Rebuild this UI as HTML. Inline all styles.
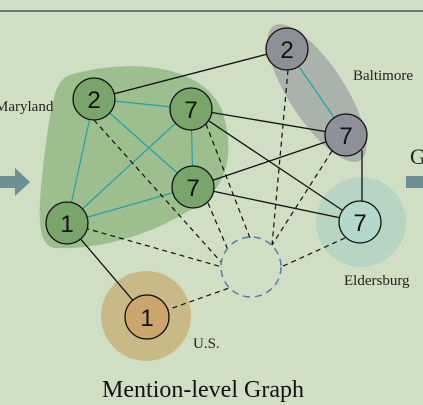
<!DOCTYPE html>
<html><head><style>body{margin:0;background:#d0dfc3;}svg{display:block}</style></head><body>
<svg width="423" height="405" viewBox="0 0 423 405" xmlns="http://www.w3.org/2000/svg" font-family="Liberation Serif, serif">
<rect width="423" height="405" fill="#d0dfc3"/>
<line x1="0" y1="11" x2="423" y2="11" stroke="#3e5866" stroke-width="1.5"/>
<polygon points="0,176 15,176 15,168 30,182 15,196 15,188 0,188" fill="#6e8f94"/>
<rect x="406" y="176" width="17" height="12" fill="#6e8f94"/>
<text x="410" y="164" font-size="22" fill="#222">G</text>
<path d="M70,75 C120,60 200,60 222,110 C235,150 230,190 190,210 C150,235 100,250 55,248 C35,245 38,210 45,150 C52,100 55,80 70,75 Z" fill="#9dbf8e"/>
<ellipse cx="317" cy="93" rx="28" ry="80" transform="rotate(-33 317 93)" fill="#aab3ab"/>
<circle cx="361" cy="222" r="45" fill="#b8d4c2"/>
<circle cx="146" cy="316" r="45" fill="#c9b986"/>
<g stroke="#1aa3a8" stroke-width="1.2">
<line x1="94" y1="99" x2="191" y2="109"/><line x1="94" y1="99" x2="193" y2="187"/>
<line x1="94" y1="99" x2="67" y2="223"/><line x1="191" y1="109" x2="193" y2="187"/>
<line x1="191" y1="109" x2="67" y2="223"/><line x1="193" y1="187" x2="67" y2="223"/>
<line x1="287" y1="49" x2="346" y2="135"/>
</g>
<g stroke="#111" stroke-width="1.3">
<line x1="94" y1="99" x2="287" y2="49"/><line x1="191" y1="109" x2="346" y2="135"/>
<line x1="191" y1="109" x2="360" y2="222"/><line x1="193" y1="187" x2="346" y2="135"/>
<line x1="193" y1="187" x2="360" y2="222"/><line x1="362" y1="150" x2="362" y2="205"/>
<line x1="67" y1="223" x2="147" y2="317"/>
</g>
<g stroke="#111" stroke-width="1.2" stroke-dasharray="5,4">
<line x1="94" y1="120" x2="221" y2="262"/><line x1="206" y1="124" x2="250" y2="238"/>
<line x1="208" y1="203" x2="228" y2="250"/><line x1="67" y1="223" x2="222" y2="267"/>
<line x1="288" y1="70" x2="272" y2="245"/><line x1="332" y1="151" x2="272" y2="245"/>
<line x1="345" y1="238" x2="281" y2="267"/><line x1="147" y1="317" x2="232" y2="287"/>
</g>
<circle cx="251" cy="267" r="30" fill="none" stroke="#4f7fa8" stroke-width="1.5" stroke-dasharray="7,5"/>
<g stroke="#111" stroke-width="1.3" font-family="Liberation Sans, sans-serif" font-size="24" text-anchor="middle">
<circle cx="94" cy="99" r="21" fill="#7aa56a"/><circle cx="191" cy="109" r="21" fill="#7aa56a"/>
<circle cx="193" cy="187" r="21" fill="#7aa56a"/><circle cx="67" cy="223" r="21" fill="#7aa56a"/>
<circle cx="287" cy="49" r="21" fill="#8f8f99"/><circle cx="346" cy="135" r="21" fill="#8f8f99"/>
<circle cx="360" cy="222" r="21" fill="#b5d8cc"/><circle cx="147" cy="317" r="22" fill="#cba56c"/>
<g stroke="none" fill="#111">
<text x="94" y="108">2</text><text x="191" y="118">7</text><text x="193" y="196">7</text><text x="67" y="232">1</text>
<text x="287" y="58">2</text><text x="346" y="144">7</text><text x="360" y="231">7</text><text x="147" y="326">1</text>
</g></g>
<g font-size="15" fill="#222">
<text x="-5" y="111">Maryland</text><text x="353" y="80">Baltimore</text>
<text x="344" y="285">Eldersburg</text><text x="193" y="348">U.S.</text>
</g>
<text x="203" y="397" font-size="24" text-anchor="middle" fill="#111">Mention-level Graph</text>
</svg>
</body></html>
